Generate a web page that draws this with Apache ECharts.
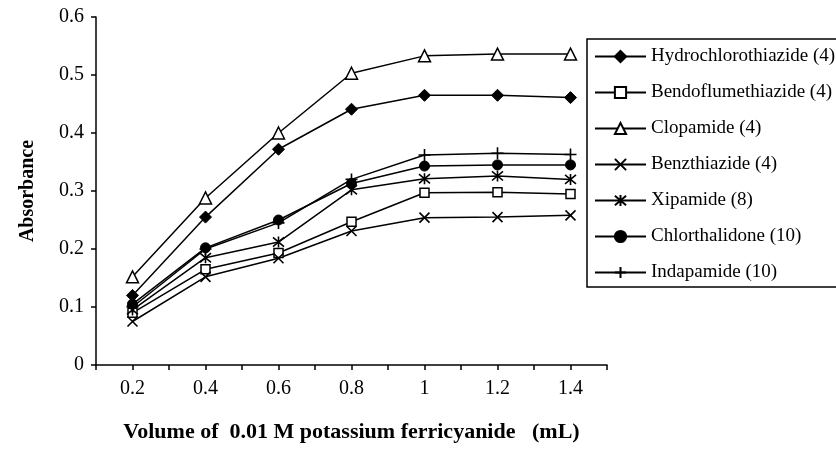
<!DOCTYPE html>
<html>
<head>
<meta charset="utf-8">
<script src="https://cdn.jsdelivr.net/npm/echarts@6/dist/echarts.min.js"></script>
<style>
  html, body { margin: 0; padding: 0; background: #fff; }
  #chart { width: 836px; height: 451px; }
</style>
</head>
<body>
<div id="chart"></div>
<script>
// Volume of 0.01 M potassium ferricyanide (mL)
var volumes = [0.2, 0.4, 0.6, 0.8, 1.0, 1.2, 1.4];

// Absorbance readings per drug (concentration in parentheses)
var hydrochlorothiazide = [0.120, 0.255, 0.372, 0.441, 0.465, 0.465, 0.461];
var bendoflumethiazide  = [0.090, 0.165, 0.193, 0.247, 0.297, 0.298, 0.295];
var clopamide           = [0.152, 0.288, 0.400, 0.503, 0.533, 0.536, 0.536];
var benzthiazide        = [0.075, 0.152, 0.184, 0.231, 0.254, 0.255, 0.258];
var xipamide            = [0.095, 0.185, 0.212, 0.302, 0.321, 0.326, 0.320];
var chlorthalidone      = [0.105, 0.202, 0.250, 0.313, 0.343, 0.345, 0.345];
var indapamide          = [0.100, 0.200, 0.245, 0.320, 0.362, 0.365, 0.363];

var yTicks = [0, 0.1, 0.2, 0.3, 0.4, 0.5, 0.6];

var serif = "'Liberation Serif', 'Times New Roman', serif";

function pairs(ys) {
  return volumes.map(function (x, i) { return [x, ys[i]]; });
}

var SYM_X = 'path://M0,0L10,10M10,0L0,10';
var SYM_STAR = 'path://M0,0L10,10M10,0L0,10M5,-1L5,11';
var SYM_PLUS = 'path://M5,0L5,10M0,5L10,5';

var filled = { color: '#000', borderColor: '#000', borderWidth: 1 };
var hollow = { color: '#fff', borderColor: '#000', borderWidth: 1.5 };
var stroked = { color: 'rgba(0,0,0,0)', borderColor: '#000', borderWidth: 1.6 };

function line(name, ys, symbol, size, style) {
  return {
    name: name,
    type: 'line',
    data: pairs(ys),
    symbol: symbol,
    symbolSize: size,
    showAllSymbol: true,
    lineStyle: { color: '#000', width: 1.5 },
    itemStyle: style,
    emphasis: { disabled: true },
    animation: false
  };
}

var chart = echarts.init(document.getElementById('chart'), null, { renderer: 'canvas' });

chart.setOption({
  backgroundColor: '#fff',
  animation: false,
  grid: { left: 96, right: 229, top: 17, bottom: 86, containLabel: false },
  xAxis: {
    type: 'value',
    min: 0.1,
    max: 1.5,
    interval: 0.1,
    name: 'Volume of  0.01 M potassium ferricyanide   (mL)',
    nameLocation: 'middle',
    nameGap: 56,
    nameTextStyle: { fontFamily: serif, fontWeight: 'bold', fontSize: 22, color: '#000' },
    axisLine: { show: true, lineStyle: { color: '#000', width: 1.5 } },
    axisTick: { show: true, length: 5, inside: false, lineStyle: { color: '#000', width: 1.5 } },
    axisLabel: {
      fontFamily: serif, fontSize: 20, color: '#000', margin: 14,
      showMinLabel: true, showMaxLabel: true,
      formatter: function (v) {
        var k = Math.round(v * 10);
        if (k % 2 !== 0) return '';
        var idx = volumes.indexOf(k / 10);
        return idx >= 0 ? String(volumes[idx]) : '';
      }
    },
    splitLine: { show: false }
  },
  yAxis: {
    type: 'value',
    min: yTicks[0],
    max: yTicks[yTicks.length - 1],
    interval: 0.1,
    name: 'Absorbance',
    nameLocation: 'middle',
    nameGap: 58,
    nameTextStyle: { fontFamily: serif, fontWeight: 'bold', fontSize: 20, color: '#000' },
    axisLine: { show: true, lineStyle: { color: '#000', width: 1.5 } },
    axisTick: { show: true, length: 5, lineStyle: { color: '#000', width: 1.5 } },
    axisLabel: { fontFamily: serif, fontSize: 20, color: '#000', margin: 12 },
    splitLine: { show: false }
  },
  legend: {
    orient: 'vertical',
    left: 587,
    top: 39,
    padding: [8, 30, 5, 7],
    itemWidth: 51,
    itemHeight: 14,
    itemGap: 17,
    borderColor: '#000',
    borderWidth: 1.5,
    selectedMode: false,
    textStyle: { fontFamily: serif, fontSize: 19, color: '#000', padding: [0, 0, 0, 0] }
  },
  series: [
    line('Hydrochlorothiazide (4)', hydrochlorothiazide, 'diamond', 12, filled),
    line('Bendoflumethiazide (4)', bendoflumethiazide, 'rect', 9, hollow),
    line('Clopamide (4)', clopamide, 'triangle', 12, hollow),
    line('Benzthiazide (4)', benzthiazide, SYM_X, 10, stroked),
    line('Xipamide (8)', xipamide, SYM_STAR, 11, stroked),
    line('Chlorthalidone (10)', chlorthalidone, 'circle', 10, filled),
    line('Indapamide (10)', indapamide, SYM_PLUS, 12, stroked)
  ]
});
</script>
</body>
</html>
